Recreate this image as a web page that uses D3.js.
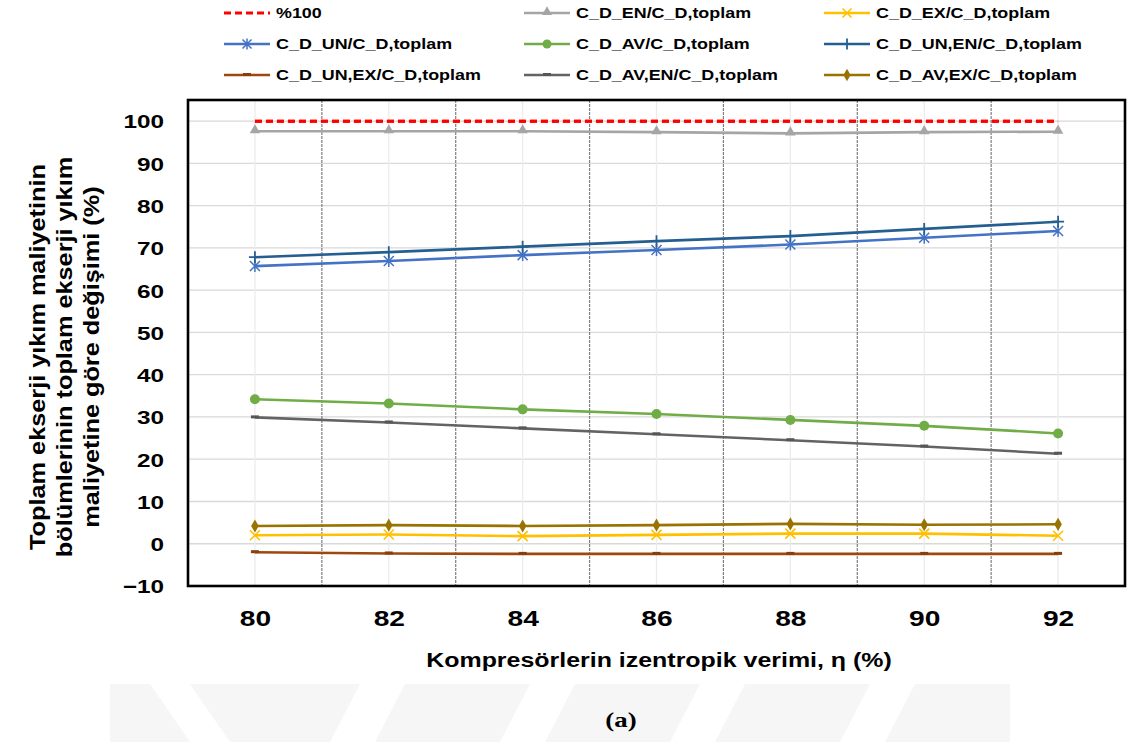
<!DOCTYPE html>
<html>
<head>
<meta charset="utf-8">
<script src="https://cdn.jsdelivr.net/npm/d3@7"></script>
<style>
  html, body { margin: 0; padding: 0; background: #fff; }
  svg { display: block; font-family: "Liberation Sans", Arial, sans-serif; }
</style>
</head>
<body>
<svg id="chart" width="1132" height="742"></svg>
<script>
(function () {
  // x: compressor isentropic efficiency (%)
  const efficiency = [80, 82, 84, 86, 88, 90, 92];
  const xTicks = [80, 82, 84, 86, 88, 90, 92];
  const xMinorGrid = [81, 83, 85, 87, 89, 91];
  const yTicks = [-10, 0, 10, 20, 30, 40, 50, 60, 70, 80, 90, 100];

  // series
  const ref100 = [100, 100, 100, 100, 100, 100, 100];
  const cdEN = [97.6, 97.6, 97.6, 97.4, 97.1, 97.4, 97.5];
  const cdEX = [2.0, 2.2, 1.8, 2.1, 2.4, 2.4, 1.9];
  const cdUN = [65.7, 66.9, 68.3, 69.5, 70.8, 72.4, 74.0];
  const cdAV = [34.2, 33.2, 31.8, 30.7, 29.3, 27.9, 26.1];
  const cdUNEN = [67.8, 69.0, 70.3, 71.6, 72.8, 74.5, 76.2];
  const cdUNEX = [-2.0, -2.3, -2.4, -2.4, -2.4, -2.4, -2.4];
  const cdAVEN = [29.9, 28.7, 27.3, 25.9, 24.5, 23.0, 21.3];
  const cdAVEX = [4.2, 4.4, 4.2, 4.4, 4.7, 4.5, 4.6];

  const series = [
    { name: '%100', values: ref100, color: '#FF0000', marker: 'none', dash: '7,4' },
    { name: 'C_D_EN/C_D,toplam', values: cdEN, color: '#A5A5A5', marker: 'triangle' },
    { name: 'C_D_EX/C_D,toplam', values: cdEX, color: '#FFC000', marker: 'x' },
    { name: 'C_D_UN/C_D,toplam', values: cdUN, color: '#4472C4', marker: 'star' },
    { name: 'C_D_AV/C_D,toplam', values: cdAV, color: '#70AD47', marker: 'circle' },
    { name: 'C_D_UN,EN/C_D,toplam', values: cdUNEN, color: '#255E91', marker: 'plus' },
    { name: 'C_D_UN,EX/C_D,toplam', values: cdUNEX, color: '#9E480E', marker: 'dash' },
    { name: 'C_D_AV,EN/C_D,toplam', values: cdAVEN, color: '#636363', marker: 'dash' },
    { name: 'C_D_AV,EX/C_D,toplam', values: cdAVEX, color: '#997300', marker: 'diamond' }
  ];

  const svg = d3.select('#chart');
  const SX = 1.28; // the source picture is stretched sideways

  const plot = { left: 188, right: 1125, top: 100, bottom: 586 };
  const x = d3.scaleLinear().domain([79, 93]).range([plot.left, plot.right]);
  const y = d3.scaleLinear().domain([-10, 105]).range([plot.bottom, plot.top]);

  // faint watermark band at the bottom
  const wm = svg.append('g').attr('class', 'watermark');
  wm.append('rect').attr('x', 110).attr('y', 684).attr('width', 900).attr('height', 58).attr('fill', '#f6f6f6');
  [[150, 684, 40, 'v'], [330, 684, 45, 's'], [500, 684, 45, 's'], [670, 684, 45, 's'], [840, 684, 45, 's']].forEach(d => {
    const [x0, y0, w, kind] = d;
    const pts = kind === 'v'
      ? [[x0, y0], [x0 + w, y0], [x0 + w + 40, 742], [x0 + 40, 742]]
      : [[x0 + 30, y0], [x0 + 30 + w, y0], [x0 + w, 742], [x0, 742]];
    wm.append('polygon').attr('points', pts.map(p => p.join(',')).join(' ')).attr('fill', '#fff');
  });

  // grid
  const grid = svg.append('g').attr('class', 'grid');
  grid.selectAll('line.h').data(yTicks).join('line')
    .attr('class', 'h')
    .attr('x1', plot.left).attr('x2', plot.right)
    .attr('y1', d => y(d)).attr('y2', d => y(d))
    .attr('stroke', '#d9d9d9').attr('stroke-width', 1.3);
  grid.selectAll('line.v').data(xTicks).join('line')
    .attr('class', 'v')
    .attr('x1', d => x(d)).attr('x2', d => x(d))
    .attr('y1', plot.top).attr('y2', plot.bottom)
    .attr('stroke', '#ececec').attr('stroke-width', 1.3);
  grid.selectAll('line.m').data(xMinorGrid).join('line')
    .attr('class', 'm')
    .attr('x1', d => x(d)).attr('x2', d => x(d))
    .attr('y1', plot.top).attr('y2', plot.bottom)
    .attr('stroke', '#7f7f7f').attr('stroke-width', 1.2)
    .attr('stroke-dasharray', '3,1');

  // axes
  const yAxis = svg.append('g')
    .attr('transform', `translate(${plot.left},0)`)
    .call(d3.axisLeft(y).tickValues(yTicks).tickSize(0).tickFormat(d3.format('d')));
  yAxis.select('.domain').remove();
  yAxis.selectAll('text')
    .attr('x', -24 / SX).attr('dy', '0.36em')
    .attr('transform', `scale(${SX},1)`)
    .attr('font-size', 19).attr('font-weight', 'bold')
    .attr('font-family', '"Liberation Sans", Arial, sans-serif')
    .attr('fill', '#000');

  const xAxis = svg.append('g')
    .attr('transform', `translate(0,${plot.bottom})`)
    .call(d3.axisBottom(x).tickValues(xTicks).tickSize(0).tickFormat(d3.format('d')));
  xAxis.select('.domain').remove();
  xAxis.selectAll('text')
    .attr('y', 40).attr('dy', 0)
    .attr('transform', `scale(${SX},1)`)
    .attr('x', 0)
    .attr('font-size', 22).attr('font-weight', 'bold')
    .attr('font-family', '"Liberation Sans", Arial, sans-serif')
    .attr('fill', '#000');

  // markers
  function drawMarker(g, kind, color, cx, cy, small) {
    const s = small ? 0.9 : 1;
    if (kind === 'triangle') {
      g.append('path').attr('d', d3.symbol(d3.symbolTriangle, 48 * s)())
        .attr('transform', `translate(${cx},${cy - 1})`).attr('fill', color);
    } else if (kind === 'circle') {
      g.append('circle').attr('cx', cx).attr('cy', cy).attr('r', 5 * s).attr('fill', color);
    } else if (kind === 'diamond') {
      g.append('path').attr('d', d3.symbol(d3.symbolDiamond, 50 * s)())
        .attr('transform', `translate(${cx},${cy})`).attr('fill', color);
    } else if (kind === 'x') {
      const r = 5 * s;
      g.append('path').attr('d', `M${cx - r},${cy - r}L${cx + r},${cy + r}M${cx - r},${cy + r}L${cx + r},${cy - r}`)
        .attr('stroke', color).attr('stroke-width', 1.6).attr('fill', 'none');
    } else if (kind === 'star') {
      const r = 5 * s;
      g.append('path').attr('d', `M${cx - r},${cy - r}L${cx + r},${cy + r}M${cx - r},${cy + r}L${cx + r},${cy - r}M${cx},${cy - r - 1}L${cx},${cy + r + 1}`)
        .attr('stroke', color).attr('stroke-width', 1.5).attr('fill', 'none');
    } else if (kind === 'plus') {
      const r = 6 * s;
      g.append('path').attr('d', `M${cx},${cy - r}L${cx},${cy + r}M${cx - r},${cy}L${cx + r},${cy}`)
        .attr('stroke', color).attr('stroke-width', 1.8).attr('fill', 'none');
    } else if (kind === 'dash') {
      g.append('rect').attr('x', cx - 4).attr('y', cy - 2).attr('width', 8).attr('height', 3)
        .attr('fill', d3.color(color).darker(0.4));
    }
  }

  // series lines
  const line = d3.line().x((d, i) => x(efficiency[i])).y(d => y(d));
  const lines = svg.append('g').attr('class', 'series');
  series.forEach(s => {
    lines.append('path')
      .datum(s.values)
      .attr('d', line)
      .attr('fill', 'none')
      .attr('stroke', s.color)
      .attr('stroke-width', s.marker === 'none' ? 3 : 2.6)
      .attr('stroke-dasharray', s.dash || null);
    const mg = lines.append('g');
    s.values.forEach((v, i) => drawMarker(mg, s.marker, s.color, x(efficiency[i]), y(v)));
  });
  // red reference line on top
  lines.append('path')
    .datum(ref100).attr('d', line).attr('fill', 'none')
    .attr('stroke', '#FF0000').attr('stroke-width', 3).attr('stroke-dasharray', '7,4');

  // plot frame
  svg.append('rect')
    .attr('x', plot.left).attr('y', plot.top)
    .attr('width', plot.right - plot.left).attr('height', plot.bottom - plot.top)
    .attr('fill', 'none').attr('stroke', '#000').attr('stroke-width', 2.6);

  // legend, 3 x 3
  const legCols = [224, 524, 824];
  const legRows = [13, 44, 75];
  const legend = svg.append('g').attr('class', 'legend');
  series.forEach((s, i) => {
    const lx = legCols[i % 3];
    const ly = legRows[Math.floor(i / 3)];
    const g = legend.append('g');
    g.append('line')
      .attr('x1', lx).attr('x2', lx + 46).attr('y1', ly).attr('y2', ly)
      .attr('stroke', s.color).attr('stroke-width', s.marker === 'none' ? 3 : 2.6)
      .attr('stroke-dasharray', s.dash || null);
    drawMarker(g, s.marker, s.color, lx + 23, ly, true);
    g.append('text')
      .attr('transform', `translate(${lx + 52},${ly + 5}) scale(${SX},1)`)
      .attr('font-size', 14).attr('font-weight', 'bold').attr('fill', '#000')
      .text(s.name);
  });

  // axis titles
  svg.append('text')
    .attr('transform', `translate(659,667) scale(${SX},1)`)
    .attr('text-anchor', 'middle')
    .attr('font-size', 19.5).attr('font-weight', 'bold').attr('fill', '#000')
    .text('Kompresörlerin izentropik verimi, η (%)');

  const yTitle = [
    'Toplam ekserji yıkım maliyetinin',
    'bölümlerinin toplam ekserji yıkım',
    'maliyetine göre değişimi (%)'
  ];
  const yTitleX = [45, 72, 99];
  yTitle.forEach((t, i) => {
    svg.append('text')
      .attr('transform', `translate(${yTitleX[i]},357) rotate(-90) scale(1.15,1)`)
      .attr('text-anchor', 'middle')
      .attr('font-size', 22).attr('font-weight', 'bold').attr('fill', '#000')
      .text(t);
  });

  // caption
  svg.append('text')
    .attr('transform', `translate(621,727) scale(${SX},1)`)
    .attr('text-anchor', 'middle')
    .attr('font-family', '"Liberation Serif", "Times New Roman", serif')
    .attr('font-size', 21).attr('font-weight', 'bold').attr('fill', '#000')
    .text('(a)');
})();
</script>
</body>
</html>
